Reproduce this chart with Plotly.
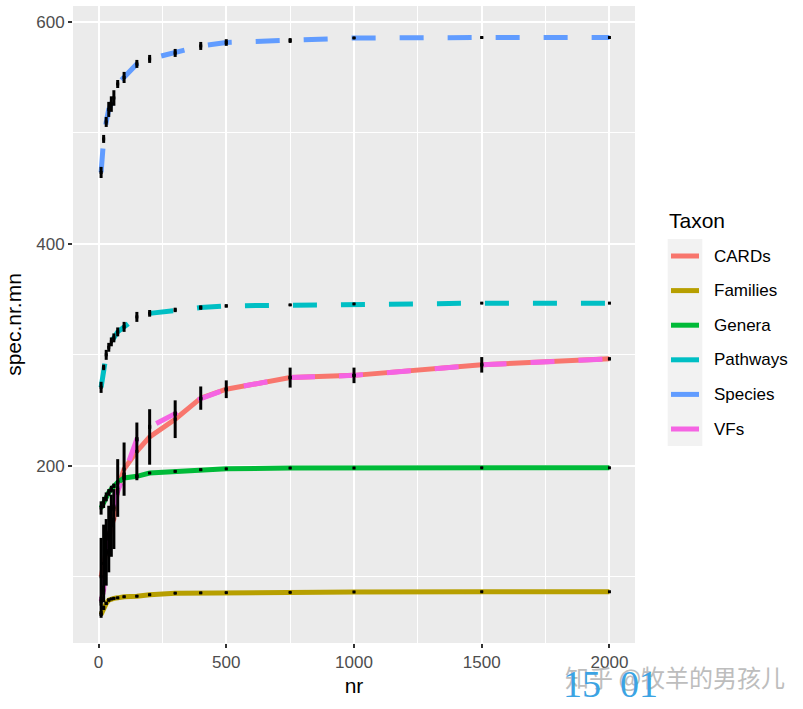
import plotly.graph_objects as go

# ---------------- data ----------------
nr = [10, 20, 30, 40, 50, 60, 75, 100, 150, 200, 300, 400, 500, 750, 1000, 1500, 2000]

taxa = ["CARDs", "Families", "Genera", "Pathways", "Species", "VFs"]
colors = ["#F8766D", "#B79F00", "#00BA38", "#00BFC4", "#619CFF", "#F564E3"]
dashed = [False, False, False, True, True, True]

cards_mn = [100, 112, 122, 134, 146, 152, 180, 197, 213, 226, 242, 261, 269, 279.5, 281.5, 291, 296.4]
cards_sd = [35, 35, 30, 30, 28, 27, 26, 24, 26, 25, 17, 10.5, 8, 9, 7, 7, 0]
families_mn = [66, 72, 76, 79, 80, 80.5, 81, 82, 82.5, 83.8, 85.2, 85.5, 85.7, 85.9, 86.3, 86.5, 86.5]
families_sd = [3, 2, 1.5, 1.5, 1, 1, 1, 1, 1, 1, 0.8, 0.8, 0.5, 0.5, 0.3, 0.3, 0]
genera_mn = [162, 167, 172, 176, 179, 182, 185, 189, 190.5, 193.5, 195, 196.5, 197.3, 198, 198, 198.2, 198.2]
genera_sd = [6, 5, 4, 3, 3, 2, 2, 1.5, 1.5, 1, 1, 1, 0.5, 0.5, 0.3, 0.3, 0]
pathways_mn = [270.7, 288.7, 300, 306.8, 311.7, 315.3, 320.7, 325.2, 334.2, 337.4, 340.5, 342.6, 344.1, 345, 345.9, 346.6, 346.6]
pathways_sd = [5, 2.5, 4.5, 4, 4, 4, 4, 4.5, 4.5, 3, 2, 2, 1.5, 1, 0.5, 0.5, 0]
species_mn = [464.4, 494.6, 509.9, 521.2, 526, 531.5, 544.1, 550, 562.2, 566.7, 572.1, 578.4, 581.5, 583.3, 585.6, 586, 586]
species_sd = [5, 3.6, 4.5, 6.8, 7, 7, 3.6, 5, 3.6, 3.6, 3.6, 3.6, 3, 2.2, 1, 1, 0]
vfs_mn = [78, 88, 122, 138, 150, 162, 177, 192, 224, 235, 247, 260.5, 269, 279.5, 281.5, 291, 296.4]
vfs_sd = [4, 4, 3, 3, 3, 3, 3, 2, 2, 2, 2, 1, 1, 1, 1, 1, 0]

means = [cards_mn, families_mn, genera_mn, pathways_mn, species_mn, vfs_mn]
sds = [cards_sd, families_sd, genera_sd, pathways_sd, species_sd, vfs_sd]

x_ticks = [0, 500, 1000, 1500, 2000]
y_ticks = [200, 400, 600]

# ---------------- layout geometry ----------------
W, H = 803, 709
L, R, T, B = 73, 635, 6, 643


def xp(px):
    return (px - L) / (R - L)


def yp(py):
    return (B - py) / (B - T)


fig = go.Figure()

for name, col, dsh, mn in zip(taxa, colors, dashed, means):
    fig.add_trace(go.Scatter(
        x=nr, y=mn, mode="lines", name=name,
        line=dict(color=col, width=5, dash="24px,24px" if dsh else "solid"),
        showlegend=False, hoverinfo="skip"))

for name, mn, sd in zip(taxa, means, sds):
    fig.add_trace(go.Scatter(
        x=nr, y=mn, mode="markers",
        marker=dict(color="black", size=3, symbol="square"),
        error_y=dict(type="data", array=sd, color="black", thickness=3, width=0),
        showlegend=False, hoverinfo="skip"))

shapes = []
annotations = []

# manual legend (ggplot style)
row0, rowstep = 256, 34.6
shapes.append(dict(type="rect", xref="paper", yref="paper",
                   x0=xp(667.7), x1=xp(702.3), y0=yp(446), y1=yp(239),
                   fillcolor="#F2F2F2", line=dict(width=0), layer="below"))
annotations.append(dict(text="Taxon", xref="paper", yref="paper",
                        x=xp(667), y=yp(220), xanchor="left", yanchor="middle",
                        showarrow=False, font=dict(size=21, color="black")))
for i, (name, col) in enumerate(zip(taxa, colors)):
    cy = row0 + i * rowstep
    shapes.append(dict(type="line", xref="paper", yref="paper",
                       x0=xp(671), x1=xp(699), y0=yp(cy), y1=yp(cy),
                       line=dict(color=col, width=5)))
    annotations.append(dict(text=name, xref="paper", yref="paper",
                            x=xp(712), y=yp(cy), xanchor="left", yanchor="middle",
                            showarrow=False, font=dict(size=17, color="black")))

# watermark texts
annotations.append(dict(text="知乎 @牧羊的男孩儿", xref="paper", yref="paper",
                        x=xp(563), y=yp(676), xanchor="left", yanchor="middle",
                        showarrow=False,
                        font=dict(size=24, color="#BDBDBD", family="Noto Sans CJK SC")))
annotations.append(dict(text="15  01", xref="paper", yref="paper",
                        x=xp(561), y=yp(684), xanchor="left", yanchor="middle",
                        showarrow=False,
                        font=dict(size=38, color="#3BA3E3", family="Liberation Serif")))

fig.update_layout(
    width=W, height=H,
    margin=dict(l=L, r=W - R, t=T, b=H - B),
    paper_bgcolor="white", plot_bgcolor="#EBEBEB",
    font=dict(family="Liberation Sans, Arial, sans-serif", size=17, color="#4D4D4D"),
    shapes=shapes, annotations=annotations,
    showlegend=False,
)

fig.update_xaxes(
    range=[-100, 2100], tickvals=x_ticks, ticktext=[str(v) for v in x_ticks],
    showgrid=True, gridcolor="white", gridwidth=1.8, zeroline=False,
    ticks="outside", ticklen=4, tickwidth=1.5, tickcolor="#333333",
    tickfont=dict(size=17, color="#4D4D4D"),
    minor=dict(tickvals=[250, 750, 1250, 1750], showgrid=True, gridcolor="white", gridwidth=0.9, ticks=""),
    title=dict(text="nr", font=dict(size=21, color="black"), standoff=6),
    showline=False,
)
fig.update_yaxes(
    range=[40.3, 614.4], tickvals=y_ticks, ticktext=[str(v) for v in y_ticks],
    showgrid=True, gridcolor="white", gridwidth=1.8, zeroline=False,
    ticks="outside", ticklen=4, tickwidth=1.5, tickcolor="#333333",
    tickfont=dict(size=17, color="#4D4D4D"),
    minor=dict(tickvals=[100, 300, 500], showgrid=True, gridcolor="white", gridwidth=0.9, ticks=""),
    title=dict(text="spec.nr.mn", font=dict(size=21, color="black"), standoff=8),
    showline=False,
)

fig.write_html("out.html")
